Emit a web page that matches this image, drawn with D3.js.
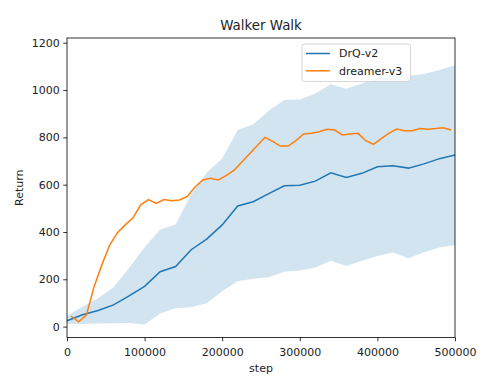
<!DOCTYPE html>
<html>
<head>
<meta charset="utf-8">
<script src="https://cdn.jsdelivr.net/npm/d3@7"></script>
<style>
  body { margin: 0; background: #fff; }
  text { font-family: "DejaVu Sans", sans-serif; fill: #222; }
</style>
</head>
<body>
<div id="showBox"></div>
<script>
// steps for DrQ-v2 mean line and band
const drqSteps = d3.range(0, 500001, 20000);
const drqMean = [25, 50, 68, 92, 130, 170, 232, 254, 325, 370, 430, 510, 528, 562, 595, 598, 615, 650, 630, 648, 676, 680, 670, 688, 710, 725];
const drqUpper = [45, 85, 120, 166, 248, 335, 411, 432, 560, 650, 711, 831, 855, 912, 958, 960, 985, 1025, 1005, 1028, 1050, 1060, 1060, 1068, 1085, 1105];
const drqLower = [12, 11, 13, 14, 15, 9, 55, 78, 82, 99, 150, 192, 202, 209, 232, 237, 250, 278, 256, 278, 299, 313, 289, 314, 334, 344];

// dreamer-v3 line
const dreamerSteps = d3.range(5000, 500000, 10000);
const dreamerMean = [45, 20, 49, 170, 262, 345, 397, 430, 460, 515,
  537, 521, 537, 532, 535, 550, 590, 620, 627, 620,
  638, 660, 695, 730, 765, 800, 783, 763, 763, 786,
  814, 817, 824, 834, 831, 810, 814, 817, 786, 770,
  795, 818, 835, 828, 828, 837, 834, 837, 841, 831];

const xTicks = [0, 100000, 200000, 300000, 400000, 500000];
const yTicks = [0, 200, 400, 600, 800, 1000, 1200];
const seriesNames = ["DrQ-v2", "dreamer-v3"];
const seriesColors = ["#1f77b4", "#ff7f0e"];

const width = 500, height = 376;
const margin = {top: 38, right: 45, bottom: 38.5, left: 67};

const svg = d3.select("#showBox").append("svg")
    .attr("width", width)
    .attr("height", height);

const x = d3.scaleLinear().domain([0, 500000]).range([margin.left, width - margin.right]);
const y = d3.scaleLinear().domain([-46, 1220]).range([height - margin.bottom, margin.top]);

const band = drqSteps.map((s, i) => ({s: s, lo: drqLower[i], hi: drqUpper[i]}));

svg.append("path")
    .datum(band)
    .attr("fill", "#1f77b4")
    .attr("fill-opacity", 0.2)
    .attr("d", d3.area().x(d => x(d.s)).y0(d => y(d.lo)).y1(d => y(d.hi)));

const line = d3.line().x(d => x(d[0])).y(d => y(d[1]));

svg.append("path")
    .datum(d3.zip(drqSteps, drqMean))
    .attr("fill", "none")
    .attr("stroke", seriesColors[0])
    .attr("stroke-width", 1.5)
    .attr("d", line);

svg.append("path")
    .datum(d3.zip(dreamerSteps, dreamerMean))
    .attr("fill", "none")
    .attr("stroke", seriesColors[1])
    .attr("stroke-width", 1.5)
    .attr("d", line);

// axes
const xAxis = svg.append("g")
    .attr("transform", `translate(0,${height - margin.bottom})`)
    .call(d3.axisBottom(x).tickValues(xTicks).tickFormat(d3.format("d")).tickSize(3.8).tickPadding(6.5));
const yAxis = svg.append("g")
    .attr("transform", `translate(${margin.left},0)`)
    .call(d3.axisLeft(y).tickValues(yTicks).tickFormat(d3.format("d")).tickSize(3.8).tickPadding(3.5));

[xAxis, yAxis].forEach(g => {
    g.select(".domain").remove();
    g.selectAll(".tick line").attr("stroke", "#000").attr("stroke-width", 0.8);
    g.selectAll(".tick text").style("font-size", "11px").attr("fill", "#222");
});

// frame
svg.append("rect")
    .attr("x", margin.left)
    .attr("y", margin.top)
    .attr("width", width - margin.left - margin.right)
    .attr("height", height - margin.top - margin.bottom)
    .attr("fill", "none")
    .attr("stroke", "#000")
    .attr("stroke-width", 0.8);

// title and labels
svg.append("text")
    .attr("x", (margin.left + width - margin.right) / 2)
    .attr("y", 30)
    .attr("text-anchor", "middle")
    .style("font-size", "13.4px")
    .text("Walker Walk");

svg.append("text")
    .attr("x", (margin.left + width - margin.right) / 2)
    .attr("y", 372)
    .attr("text-anchor", "middle")
    .style("font-size", "11px")
    .text("step");

svg.append("text")
    .attr("transform", `translate(23,${(margin.top + height - margin.bottom) / 2}) rotate(-90)`)
    .attr("text-anchor", "middle")
    .style("font-size", "11px")
    .text("Return");

// legend
const legend = svg.append("g").attr("transform", "translate(302,44)");
legend.append("rect")
    .attr("width", 108.5)
    .attr("height", 37.5)
    .attr("rx", 2.5)
    .attr("fill", "#fff")
    .attr("fill-opacity", 0.8)
    .attr("stroke", "#ccc")
    .attr("stroke-width", 0.8);

seriesNames.forEach((name, i) => {
    const row = legend.append("g").attr("transform", `translate(0,${9.5 + i * 17.3})`);
    row.append("line")
        .attr("x1", 4).attr("x2", 28)
        .attr("stroke", seriesColors[i])
        .attr("stroke-width", 1.5);
    row.append("text")
        .attr("x", 37)
        .attr("dy", "0.35em")
        .style("font-size", "11px")
        .text(name);
});
</script>
</body>
</html>
